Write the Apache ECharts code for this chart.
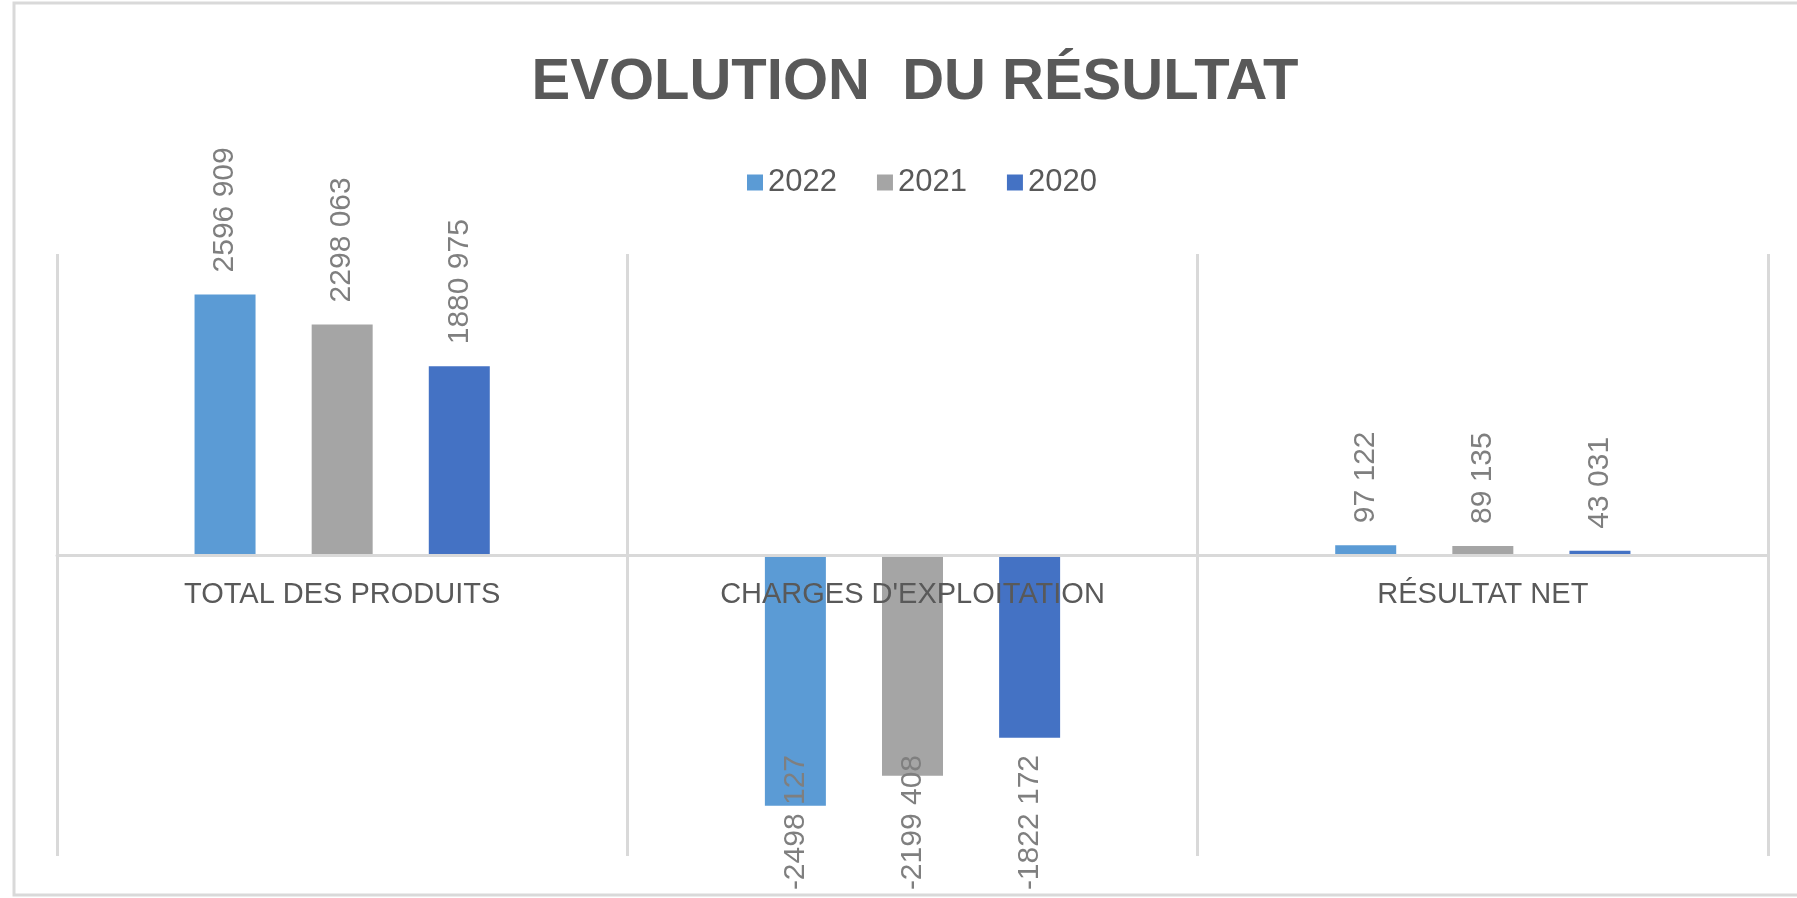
<!DOCTYPE html>
<html>
<head>
<meta charset="utf-8">
<title>Evolution du résultat</title>
<script src="https://cdn.jsdelivr.net/npm/echarts@6/dist/echarts.min.js"></script>
<style>
  html, body { margin: 0; padding: 0; background: #fff; }
  #chart { width: 1797px; height: 898px; }
</style>
</head>
<body>
<div id="chart"></div>
<script>
// data
var categories = ['TOTAL DES PRODUITS', "CHARGES D'EXPLOITATION", 'RÉSULTAT NET'];
var years = ['2022', '2021', '2020'];
var values2022 = [2596909, -2498127, 97122];
var values2021 = [2298063, -2199408, 89135];
var values2020 = [1880975, -1822172, 43031];
var colors = ['#5B9BD5', '#A5A5A5', '#4472C4'];

var yMin = -3000000, yMax = 3000000;
var gridTop = 254, gridBottom = 42, chartH = 898;

// "# ###" style, as in the sheet: 2596 909
function fmt(v) {
    var a = Math.abs(v);
    var hi = Math.floor(a / 1000);
    var lo = String(a % 1000);
    while (lo.length < 3) lo = '0' + lo;
    return (v < 0 ? '-' : '') + (hi > 0 ? hi + ' ' + lo : String(a % 1000));
}

var labelBase = {
    show: true,
    rotate: 90,
    fontFamily: 'Liberation Sans',
    fontSize: 30,
    color: '#7f7f7f',
    verticalAlign: 'middle',
    formatter: function (p) { return fmt(p.value); }
};

function toItems(arr) {
    var out = [];
    for (var i = 0; i < arr.length; i++) {
        var v = arr[i];
        var lab;
        if (v >= 0) {
            lab = Object.assign({}, labelBase, { position: 'top', distance: 22, align: 'left' });
        } else {
            lab = Object.assign({}, labelBase, { position: ['50%', 200], align: 'right' });
        }
        out.push({ value: v, label: lab });
    }
    return out;
}

var seriesData = [values2022, values2021, values2020];
var series = [];
for (var s = 0; s < years.length; s++) {
    series.push({
        name: years[s],
        type: 'bar',
        barWidth: 61,
        barGap: '92%',
        itemStyle: { color: colors[s] },
        data: toItems(seriesData[s])
    });
}

// category axis sits on the zero line
var plotH = chartH - gridTop - gridBottom;
var zeroOffset = -plotH * (0 - yMin) / (yMax - yMin);

var myChart = echarts.init(document.getElementById('chart'));
var option = {
    backgroundColor: '#ffffff',
    animation: false,
    color: colors,
    title: {
        text: 'EVOLUTION  DU RÉSULTAT',
        left: 910,
        textAlign: 'center',
        top: 49,
        textStyle: {
            fontFamily: 'Liberation Sans',
            fontWeight: 'bold',
            fontSize: 58,
            color: '#595959'
        }
    },
    legend: {
        data: years,
        left: 742,
        top: 162,
        icon: 'rect',
        itemWidth: 16,
        itemHeight: 16,
        itemGap: 40,
        textStyle: { fontFamily: 'Liberation Sans', fontSize: 31, color: '#595959' }
    },
    graphic: [{
        type: 'rect',
        shape: { x: 14, y: 3, width: 1800, height: 892 },
        style: { fill: 'none', stroke: '#d9d9d9', lineWidth: 3 },
        silent: true
    }],
    grid: { left: 57, right: 29, top: gridTop, bottom: gridBottom },
    xAxis: {
        type: 'category',
        data: categories,
        z: 10,
        offset: zeroOffset,
        axisLine: { onZero: false, lineStyle: { color: '#d9d9d9', width: 3 } },
        axisTick: { show: false },
        splitLine: { show: true, lineStyle: { color: '#d9d9d9', width: 3 } },
        axisLabel: {
            margin: 25,
            fontFamily: 'Liberation Sans',
            fontSize: 29,
            color: '#595959'
        }
    },
    yAxis: {
        type: 'value',
        min: yMin,
        max: yMax,
        interval: 1000000,
        axisLine: { show: false },
        axisTick: { show: false },
        axisLabel: { show: false },
        splitLine: { show: false }
    },
    series: series
};
myChart.setOption(option);
</script>
</body>
</html>
